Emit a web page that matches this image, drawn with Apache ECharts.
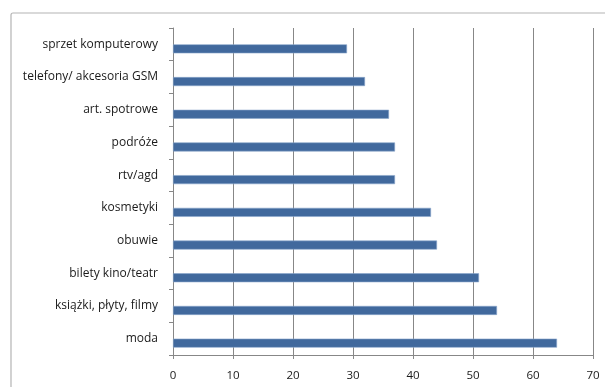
<!DOCTYPE html>
<html>
<head>
<meta charset="utf-8">
<script src="https://cdn.jsdelivr.net/npm/echarts@6/dist/echarts.min.js"></script>
<style>
  html, body { margin: 0; padding: 0; background: #fff; }
  #chart { width: 605px; height: 387px; }
</style>
</head>
<body>
<div id="chart"></div>
<script>
// Categories, listed from top to bottom as drawn
const categories = [
  'sprzet komputerowy',
  'telefony/ akcesoria GSM',
  'art. spotrowe',
  'podróże',
  'rtv/agd',
  'kosmetyki',
  'obuwie',
  'bilety kino/teatr',
  'książki, płyty, filmy',
  'moda'
];
const values = [29, 32, 36, 37, 37, 43, 44, 51, 54, 64];
// Second (empty) series slot that shares each category band
const emptySeries = [null, null, null, null, null, null, null, null, null, null];
const xTicks = { min: 0, max: 70, interval: 10 };

const chart = echarts.init(document.getElementById('chart'), null, { renderer: 'canvas' });
const font = '"Open Sans", "Liberation Sans", Arial, sans-serif';

chart.setOption({
  animation: false,
  backgroundColor: '#ffffff',
  graphic: [{
    type: 'rect',
    shape: { x: 11, y: 13, width: 700, height: 500, r: 2 },
    style: { fill: 'none', stroke: '#b4b4b4', lineWidth: 1.2 },
    z: 0
  }],
  grid: { left: 173, right: 12, top: 28, bottom: 32, containLabel: false },
  xAxis: {
    type: 'value',
    min: xTicks.min,
    max: xTicks.max,
    interval: xTicks.interval,
    axisLine: { show: true, lineStyle: { color: '#878787', width: 1 } },
    axisTick: { show: true, length: 4, lineStyle: { color: '#878787' } },
    splitLine: { show: true, lineStyle: { color: '#878787', width: 1 } },
    axisLabel: { color: '#1a1a1a', fontFamily: font, fontSize: 11.5, margin: 15 }
  },
  yAxis: {
    type: 'category',
    data: categories,
    inverse: true,
    axisLine: { show: true, lineStyle: { color: '#878787', width: 1 } },
    axisTick: { show: true, length: 4, lineStyle: { color: '#878787' } },
    axisLabel: {
      color: '#1a1a1a', fontFamily: font, fontSize: 12, margin: 15,
      padding: [5, 0, 0, 0]
    }
  },
  series: [
    {
      type: 'bar',
      data: emptySeries,
      barWidth: 9,
      barGap: '0%'
    },
    {
      type: 'bar',
      data: values,
      barWidth: 9,
      barGap: '0%',
      itemStyle: { color: '#41699d', borderColor: '#8aa6cb', borderWidth: 0.6 }
    }
  ]
});
</script>
</body>
</html>
